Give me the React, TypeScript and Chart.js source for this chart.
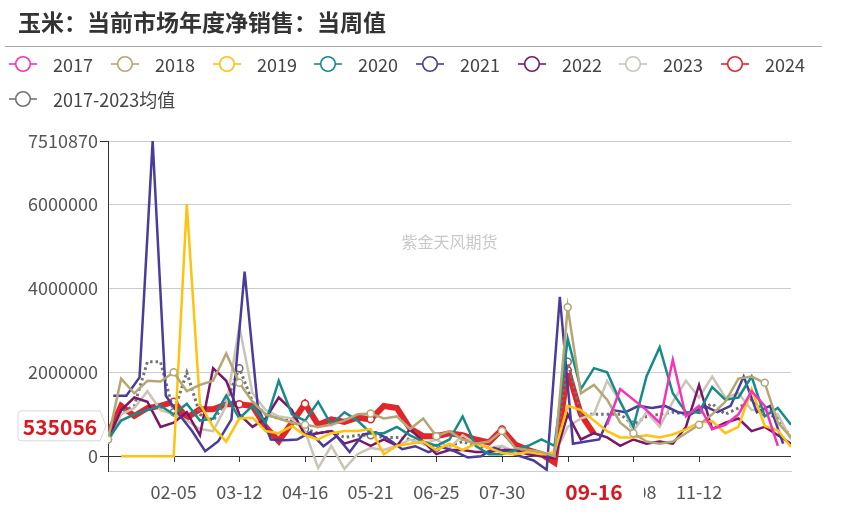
import React, { useEffect, useRef } from "react";
import { Chart, registerables } from "chart.js";
Chart.register(...registerables);

// ---------- data ----------
const weeks = ["01-01","01-08","01-15","01-22","01-29","02-05","02-12","02-19","02-26","03-05","03-12","03-19","03-26","04-02","04-09","04-16","04-23","04-30","05-07","05-14","05-21","05-28","06-04","06-11","06-18","06-25","07-02","07-09","07-16","07-23","07-30","08-06","08-13","08-20","08-27","09-03","09-10","09-17","09-24","10-01","10-08","10-15","10-22","10-29","11-05","11-12","11-19","11-26","12-03","12-10","12-17","12-24","12-31"];
const xTickIdx = [5, 10, 15, 20, 25, 30, 35, 40, 45];
const yTicks = [0, 2000000, 4000000, 6000000, 7510870];
const yMin = -360000;
const yMax = 7510870;

const s2017 = [null,null,null,null,null,null,null,null,null,null,null,null,null,null,null,null,null,null,null,null,null,null,null,null,null,null,null,null,null,null,null,null,null,null,null,null,null,null,
  750000,1600000,1350000,1100000,800000,2300000,950000,1200000,650000,750000,1000000,1550000,1200000,250000,null];
const s2018 = [400000,1850000,1500000,1800000,1780000,2000000,1550000,1700000,1800000,2450000,1750000,1300000,1000000,900000,800000,750000,700000,750000,850000,1000000,1020000,900000,950000,650000,900000,480000,600000,400000,300000,350000,600000,200000,150000,100000,0,3550000,1500000,1700000,1350000,800000,550000,350000,300000,350000,550000,750000,1000000,1300000,1850000,1900000,1750000,800000,450000];
const s2019 = [null,0,0,0,0,0,6000000,1250000,700000,350000,900000,920000,600000,550000,720000,500000,400000,550000,600000,600000,650000,50000,250000,300000,350000,150000,300000,150000,300000,200000,80000,50000,100000,50000,100000,1200000,1100000,850000,600000,450000,450000,500000,450000,520000,640000,800000,840000,550000,700000,1600000,720000,620000,220000];
const s2020 = [400000,850000,1000000,1100000,1200000,1000000,1250000,850000,900000,1450000,900000,1200000,800000,1800000,1000000,850000,1300000,750000,1050000,850000,550000,550000,700000,500000,350000,250000,400000,950000,250000,50000,50000,150000,250000,400000,250000,2800000,1600000,2100000,2000000,1300000,700000,1900000,2600000,1500000,1050000,1050000,1650000,1350000,1400000,1900000,950000,1150000,750000];
const s2021 = [1440000,1440000,1880000,7510870,1440000,1000000,600000,120000,360000,880000,4400000,1200000,400000,380000,400000,570000,240000,480000,100000,520000,570000,400000,170000,240000,100000,220000,120000,-30000,0,200000,100000,0,-100000,-320000,3800000,300000,350000,400000,1100000,1050000,1200000,1150000,1200000,1050000,1000000,1200000,1050000,1200000,1900000,1050000,1200000,300000];
const s2022 = [400000,1100000,1400000,1300000,700000,800000,1050000,500000,2100000,1800000,1000000,700000,900000,1400000,1100000,500000,550000,600000,300000,400000,250000,400000,250000,650000,350000,50000,150000,150000,100000,100000,150000,150000,50000,0,-50000,1000000,400000,550000,450000,250000,400000,300000,350000,300000,700000,1700000,650000,800000,900000,600000,700000,500000,300000];
const s2023 = [300000,1000000,1150000,1550000,1100000,1000000,850000,650000,600000,1200000,3100000,1500000,1100000,950000,900000,600000,-280000,250000,-300000,50000,200000,150000,250000,400000,300000,400000,200000,500000,300000,200000,250000,100000,50000,0,50000,700000,900000,1000000,1800000,1300000,600000,1050000,700000,1300000,1800000,1400000,1900000,1400000,1500000,1100000,1100000,1000000,400000];
const s2024 = [520000,1200000,960000,1150000,1200000,1300000,920000,1120000,1120000,1240000,1240000,1200000,700000,360000,800000,1250000,750000,880000,820000,920000,880000,1200000,1150000,660000,480000,480000,550000,500000,400000,330000,640000,280000,150000,50000,-150000,2050000,1000000,535056];
const sAvg = [400000,1050000,1200000,2250000,2250000,1050000,2000000,1000000,850000,1300000,2100000,1300000,1000000,900000,850000,650000,550000,600000,450000,500000,500000,450000,450000,400000,300000,200000,250000,350000,250000,200000,150000,100000,100000,50000,50000,2250000,1000000,1000000,1000000,1000000,750000,950000,1000000,1050000,1000000,1100000,1250000,1000000,1150000,1350000,1050000,900000,450000];
// 2021 reporting dates fall about 3 days later in the week than the base calendar
const weekShift2021 = 0.4;
const currentWeekLabel = "09-16";
const title = "玉米：当前市场年度净销售：当周值";
const watermark = "紫金天风期货";

const FONT = '"Noto Sans CJK SC", "Noto Sans", sans-serif';

type S = { name: string; data: (number | null)[]; color: string; width: number; dash?: number[]; shift?: number; marks?: boolean };
const series: S[] = [
  { name: "2017", data: s2017, color: "#f532b8", width: 2.5 },
  { name: "2018", data: s2018, color: "#b4a775", width: 2.5, marks: true },
  { name: "2019", data: s2019, color: "#ffc20e", width: 2.5 },
  { name: "2020", data: s2020, color: "#178a8a", width: 2.5 },
  { name: "2021", data: s2021, color: "#4b3c9c", width: 2.5, shift: weekShift2021 },
  { name: "2022", data: s2022, color: "#7a1767", width: 2.5 },
  { name: "2023", data: s2023, color: "#cbc5b8", width: 2.5 },
  { name: "2017-2023均值", data: sAvg, color: "#737373", width: 3, dash: [2.5, 3], marks: true },
  { name: "2024", data: s2024, color: "#e0262b", width: 6, marks: true },
];
const legendOrder = ["2017", "2018", "2019", "2020", "2021", "2022", "2023", "2024"];
const legendRow1Left = [53, 155, 257, 358, 460, 562, 663, 765];

const overlayPlugin = {
  id: "overlay",
  beforeDatasetsDraw(chart: any) {
    const { ctx, chartArea, scales } = chart;
    ctx.save();
    ctx.fillStyle = "#c9c9c9";
    ctx.font = `16px ${FONT}`;
    ctx.textAlign = "center";
    ctx.textBaseline = "middle";
    ctx.fillText(watermark, (chartArea.left + chartArea.right) / 2, 242);
    const zy = Math.round(scales.y.getPixelForValue(0));
    ctx.strokeStyle = "#333";
    ctx.lineWidth = 1;
    xTickIdx.forEach((i) => {
      const px = Math.round(scales.x.getPixelForValue(i)) + 0.5;
      ctx.beginPath();
      ctx.moveTo(px, zy);
      ctx.lineTo(px, zy + 6);
      ctx.stroke();
    });
    ctx.restore();
  },
  afterDraw(chart: any) {
    const { ctx, chartArea, scales } = chart;
    ctx.save();
    const lastIdx = s2024.length - 1;
    const px = scales.x.getPixelForValue(lastIdx);
    const ly = chartArea.bottom + 21;
    ctx.fillStyle = "#fff";
    ctx.fillRect(px - 50, ly - 15, 100, 30);
    ctx.fillStyle = "#d7191f";
    ctx.font = `bold 21px ${FONT}`;
    ctx.textAlign = "center";
    ctx.textBaseline = "middle";
    ctx.fillText(currentWeekLabel, px, ly);
    const val = s2024[lastIdx] as number;
    const py = scales.y.getPixelForValue(val) - 8;
    const l = 18, r = 100, h = 30;
    ctx.beginPath();
    ctx.moveTo(l + 3, py - h / 2);
    ctx.lineTo(r, py - h / 2);
    ctx.lineTo(r + 6, py);
    ctx.lineTo(r, py + h / 2);
    ctx.lineTo(l + 3, py + h / 2);
    ctx.quadraticCurveTo(l, py + h / 2, l, py + h / 2 - 3);
    ctx.lineTo(l, py - h / 2 + 3);
    ctx.quadraticCurveTo(l, py - h / 2, l + 3, py - h / 2);
    ctx.closePath();
    ctx.fillStyle = "#fff";
    ctx.fill();
    ctx.strokeStyle = "#d8d8d8";
    ctx.lineWidth = 1;
    ctx.stroke();
    ctx.fillStyle = "#d7191f";
    ctx.font = `bold 21px ${FONT}`;
    ctx.textAlign = "center";
    ctx.fillText(String(val), (l + r) / 2 + 1, py + 1);
    ctx.restore();
  },
};

function LegendIcon({ color, left, top }: { color: string; left: number; top: number }) {
  return (
    <svg width={28} height={18} style={{ position: "absolute", left, top: top - 9 }}>
      <line x1={0} y1={9} x2={28} y2={9} stroke={color} strokeWidth={1.6} />
      <circle cx={14} cy={9} r={7.3} fill="#fff" stroke={color} strokeWidth={1.6} />
    </svg>
  );
}

export default function App() {
  const ref = useRef<HTMLCanvasElement>(null);
  useEffect(() => {
    if (!ref.current) return;
    const datasets = series.map((s) => ({
      label: s.name,
      data: s.data.map((v, i) => ({ x: i + (s.shift || 0), y: v })),
      borderColor: s.color,
      backgroundColor: s.color,
      borderWidth: s.width,
      borderDash: s.dash || [],
      tension: 0,
      fill: false,
      spanGaps: false,
      pointRadius: (c: any) => (s.marks && c.dataIndex % 5 === 0 ? 3.5 : 0),
      pointBackgroundColor: "#fff",
      pointBorderColor: s.color,
      pointBorderWidth: 1.5,
      pointHoverRadius: 0,
    }));
    const chart = new Chart(ref.current, {
      type: "line",
      data: { datasets } as any,
      plugins: [overlayPlugin],
      options: {
        animation: false,
        responsive: false,
        devicePixelRatio: 1,
        events: [],
        layout: { padding: { top: 141, right: 61, bottom: 11, left: 0 } },
        plugins: { legend: { display: false }, tooltip: { enabled: false }, title: { display: false } },
        scales: {
          x: {
            type: "linear",
            min: 0,
            max: weeks.length - 1,
            afterBuildTicks: (axis: any) => {
              axis.ticks = xTickIdx.map((v) => ({ value: v }));
            },
            ticks: {
              callback: (v: any) => weeks[v as number],
              color: "#555",
              font: { size: 18, family: FONT },
              maxRotation: 0,
              autoSkip: false,
              padding: 10,
            },
            grid: { drawOnChartArea: false, drawTicks: false },
            border: { display: true, color: "#cccccc" },
          },
          y: {
            type: "linear",
            min: yMin,
            max: yMax,
            afterBuildTicks: (axis: any) => {
              axis.ticks = [yMin, ...yTicks].map((v) => ({ value: v }));
            },
            afterFit: (axis: any) => {
              axis.width = 108;
            },
            ticks: {
              callback: (v: any) => (v === yMin ? "" : String(v)),
              color: "#555",
              font: { size: 18, family: FONT },
              padding: 2,
            },
            grid: {
              color: (c: any) => (c.tick && c.tick.value === 0 ? "#333" : "#cccccc"),
              tickColor: (c: any) => (c.tick && (c.tick.value === 0 || c.tick.value === yMax) ? "#333" : "rgba(0,0,0,0)"),
              drawTicks: true,
              tickLength: 8,
              lineWidth: 1,
            },
            border: { display: true, color: "#333", width: 1 },
          },
        },
      } as any,
    });
    return () => chart.destroy();
  }, []);

  const row1 = legendOrder.map((n, k) => ({ s: series.find((s) => s.name === n)!, left: legendRow1Left[k], top: 64 }));
  const avgS = series.find((s) => s.name === "2017-2023均值")!;
  const items = [...row1, { s: avgS, left: 53, top: 99 }];

  return (
    <div style={{ position: "absolute", left: 0, top: 0, width: 852, height: 524, background: "#fff", overflow: "hidden", fontFamily: FONT }}>
      <canvas ref={ref} width={852} height={524} style={{ position: "absolute", left: 0, top: 0, width: 852, height: 524 }} />
      <div style={{ position: "absolute", left: 18, top: 8, fontSize: 23, lineHeight: "26px", fontWeight: 700, color: "#333", whiteSpace: "nowrap" }}>{title}</div>
      <div style={{ position: "absolute", left: 5, top: 46, width: 817, height: 0, borderTop: "1.5px solid #aaa" }} />
      {items.map(({ s, left, top }) => (
        <React.Fragment key={s.name}>
          <LegendIcon color={s.color} left={left - 44} top={top} />
          <div style={{ position: "absolute", left, top: top - 12, fontSize: 18, lineHeight: "24px", color: "#444", whiteSpace: "nowrap" }}>{s.name}</div>
        </React.Fragment>
      ))}
    </div>
  );
}
